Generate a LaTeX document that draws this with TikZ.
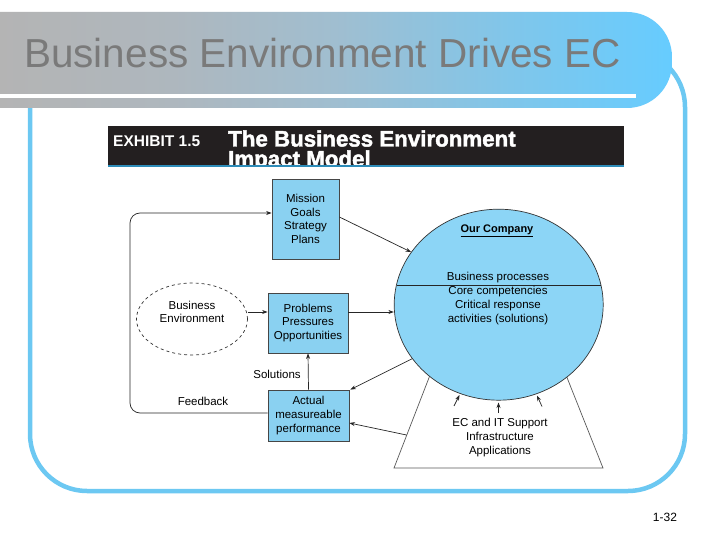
\documentclass[tikz,border=0pt]{standalone}
\usepackage{fontspec}
\setmainfont{Liberation Sans}
\newfontfamily\heavyfont[FakeBold=2]{Liberation Sans Bold}
\usetikzlibrary{arrows.meta,shapes.geometric,calc}
\definecolor{framec}{RGB}{108,200,242}
\definecolor{boxc}{RGB}{138,209,241}
\definecolor{circc}{RGB}{140,213,246}
\definecolor{boxedge}{RGB}{70,70,70}
\definecolor{titlec}{RGB}{122,122,122}
\definecolor{exblack}{RGB}{35,31,32}
\definecolor{exline}{RGB}{45,140,185}
\definecolor{tg0}{RGB}{180,180,180}
\definecolor{tg1}{RGB}{174,183,190}
\definecolor{tg2}{RGB}{160,190,208}
\definecolor{tg3}{RGB}{128,198,234}
\definecolor{tg4}{RGB}{102,204,255}
\pgfdeclarehorizontalshading{titleshade}{100bp}{color(0bp)=(tg0); color(25bp)=(tg0); color(38bp)=(tg1); color(50bp)=(tg2); color(63bp)=(tg3); color(75bp)=(tg4); color(100bp)=(tg4)}
\tikzset{
  lbl/.style={font=\fontsize{11.5}{13.7}\selectfont, align=center, inner sep=0pt, text=black},
  bluebox/.style={lbl, draw=boxedge, fill=boxc, line width=0.8pt},
  arr/.style={-{Stealth[length=5.5pt,width=4pt]}, line width=0.7pt, draw=black!85},
}
\begin{document}
\begin{tikzpicture}[x=1pt,y=-1pt]
\useasboundingbox (0,0) rectangle (720,540);
\fill[white] (0,0) rectangle (720,540);
% frame
\draw[framec, line width=4.5pt, rounded corners=57pt] (30,50) rectangle (685,491);
% title bar
\shade[shading=titleshade] (-2,12) {[rounded corners=45pt] -- (672,12) -- (672,108)} -- (-2,108) -- cycle;
\fill[white] (-2,94) rectangle (636,98);
\node[anchor=base west, inner sep=0pt, text=titlec, font=\fontsize{40.5}{44}\selectfont] (title) at (24,68) {Business Environment Drives EC};
% exhibit header
\fill[exblack] (108,126) rectangle (624,166);
\node[anchor=base west, inner sep=0pt, text=white, font=\bfseries\fontsize{15.5}{18}\selectfont] (exh) at (113,147) {EXHIBIT 1.5};
\node[anchor=base west, inner sep=0pt, text=white, font=\heavyfont\fontsize{22.3}{24}\selectfont] (exa) at (228,146.5) {The Business Environment};
\node[anchor=base west, inner sep=0pt, text=white, font=\heavyfont\fontsize{22.3}{24}\selectfont] (exb) at (228,166.5) {Impact Model};
\fill[white] (108,167.5) rectangle (624,175);
\fill[exline] (108,165.5) rectangle (624,167.5);
% trapezoid (support)
\coordinate (tbl) at (394,468);
\coordinate (tbr) at (603,468);
\coordinate (ttr) at (564,370);
\coordinate (ttl) at (432,370);
\draw[line width=0.7pt, draw=black!65] (ttl) -- (tbl) -- (tbr) -- (ttr);
% company circle
\node[ellipse, draw=black!80, line width=0.7pt, fill=circc, minimum width=209pt, minimum height=191pt, inner sep=0pt] (comp) at (498.7,304.7) {};
\draw[line width=0.7pt, draw=black!85] (comp.center) ++(-102.2,-19.7) -- ++(204.4,0);
\node[lbl, font=\bfseries\fontsize{11}{13}\selectfont] (ourco) at (497,231) {\underline{Our Company}};
\node[lbl] (procs) at (498,298.5) {Business processes\\Core competencies\\Critical response\\activities (solutions)};
\node[lbl] (support) at (500,437.5) {EC and IT Support\\Infrastructure\\Applications};
% boxes
\node[bluebox, minimum width=67pt, minimum height=80pt] (mis) at (305.5,219) {Mission\\Goals\\Strategy\\Plans};
\node[bluebox, minimum width=80pt, minimum height=60pt] (prob) at (308,323) {Problems\\Pressures\\Opportunities};
\node[bluebox, minimum width=81pt, minimum height=51pt] (act) at (308.5,415.5) {Actual\\measureable\\performance};
\node[ellipse, draw=black!80, dashed, line width=0.7pt, minimum width=111pt, minimum height=72pt, inner sep=0pt] (env) at (192,319) {};
\node[lbl] (envtxt) at (192,312) {Business\\Environment};
\node[lbl] (sol) at (277,374) {Solutions};
\node[lbl] (fb) at (203,401) {Feedback};
\node[lbl, font=\fontsize{12}{14}\selectfont] (pg) at (665,517) {1-32};
% connectors
\coordinate (fbx) at (130,0);
\coordinate (trapside) at (406.5,435);
\draw[arr] ([yshift=2pt]mis.east) -- (comp.149);
\draw[arr] ([yshift=7pt]env.east) -- ([yshift=7pt]env.east -| prob.west);
\draw[arr] ([yshift=11pt]prob.east) -- ([yshift=11pt]prob.east -| comp.west);
\draw[arr] (comp.212) -- ([xshift=1pt]act.north east);
\draw[arr] (trapside) -- ([yshift=-7.5pt]act.east);
\draw[arr] (act.north) -- (prob.south);
\draw[arr, rounded corners=10pt] ([yshift=2.5pt]act.west) -| ([yshift=6pt]mis.west -| fbx) -- ([yshift=6pt]mis.west);
\coordinate (s1a) at (454,406); \coordinate (s1b) at (459.5,395);
\coordinate (s2a) at (498.5,413); \coordinate (s2b) at (498.5,402.5);
\coordinate (s3a) at (542,406.5); \coordinate (s3b) at (537,395.5);
\draw[arr] (s1a) -- (s1b);
\draw[arr] (s2a) -- (s2b);
\draw[arr] (s3a) -- (s3b);
\end{tikzpicture}
\end{document}
